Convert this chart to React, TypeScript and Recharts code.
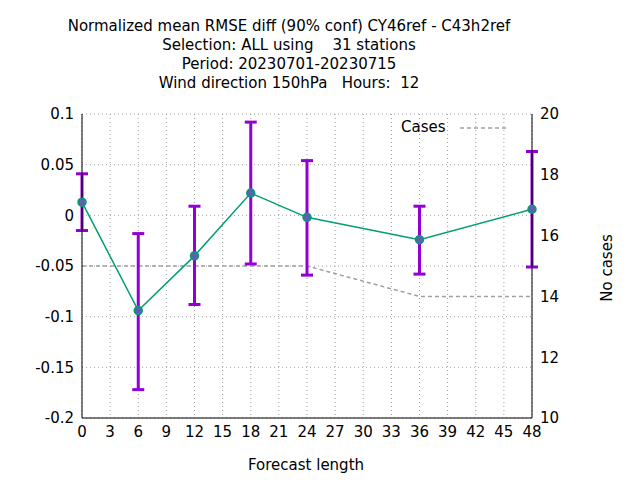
import React from "react";
import {
  ComposedChart,
  Line,
  XAxis,
  YAxis,
  CartesianGrid,
  ErrorBar,
} from "recharts";

const leadTimes = [0, 6, 12, 18, 24, 36, 48];
const meanDiff = [0.013, -0.094, -0.04, 0.022, -0.002, -0.024, 0.006];
const lowBound = [-0.015, -0.172, -0.088, -0.048, -0.059, -0.058, -0.051];
const highBound = [0.041, -0.018, 0.009, 0.092, 0.054, 0.009, 0.063];
const cases = [15, 15, 15, 15, 15, 14, 14];

const xTicks = [0, 3, 6, 9, 12, 15, 18, 21, 24, 27, 30, 33, 36, 39, 42, 45, 48];
const leftTicks = [-0.2, -0.15, -0.1, -0.05, 0, 0.05, 0.1];
const rightTicks = [10, 12, 14, 16, 18, 20];

const titleLines = [
  "Normalized mean RMSE diff (90% conf) CY46ref - C43h2ref",
  "Selection: ALL using    31 stations",
  "Period: 20230701-20230715",
  "Wind direction 150hPa   Hours:  12",
];

const data = leadTimes.map((t, i) => ({
  t,
  mean: meanDiff[i],
  err: [meanDiff[i] - lowBound[i], highBound[i] - meanDiff[i]],
  cases: cases[i],
}));

const font = "DejaVu Sans, sans-serif";

export default function App() {
  return (
    <div style={{ position: "absolute", left: 0, top: 0, width: 640, height: 480, background: "#fff", fontFamily: font }}>
      {titleLines.map((l, i) => (
        <div
          key={i}
          style={{ position: "absolute", left: -17, width: 612, top: 17 + i * 19, textAlign: "center", fontSize: 15, lineHeight: "19px", whiteSpace: "pre" }}
        >
          {l}
        </div>
      ))}
      <ComposedChart
        width={640}
        height={480}
        data={data}
        margin={{ top: 114, right: 0, left: 0, bottom: 0 }}
      >
        <CartesianGrid stroke="#a0a0a0" strokeDasharray="1 3" yAxisId="left" />
        <XAxis
          dataKey="t"
          type="number"
          domain={[0, 48]}
          ticks={xTicks}
          height={62}
          tick={{ fill: "#000", fontSize: 15, fontFamily: font }}
          tickLine={false}
          axisLine={{ stroke: "#000" }}
          interval={0}
        />
        <XAxis xAxisId="top" orientation="top" dataKey="t" type="number" domain={[0, 48]} height={0} tick={false} tickLine={false} axisLine={{ stroke: "#000" }} />
        <YAxis
          yAxisId="left"
          domain={[-0.2, 0.1]}
          ticks={leftTicks}
          width={82}
          tick={{ fill: "#000", fontSize: 15, fontFamily: font }}
          tickLine={false}
          axisLine={{ stroke: "#000" }}
          tickFormatter={(v: number) => String(v)}
        />
        <YAxis
          yAxisId="right"
          orientation="right"
          domain={[10, 20]}
          ticks={rightTicks}
          width={108}
          tick={{ fill: "#000", fontSize: 15, fontFamily: font }}
          tickLine={false}
          axisLine={{ stroke: "#000" }}
        />
        <Line
          yAxisId="right"
          dataKey="cases"
          stroke="#a0a0a0"
          strokeWidth={1.5}
          strokeDasharray="4 3"
          dot={false}
          isAnimationActive={false}
        />
        <Line
          yAxisId="left"
          dataKey="mean"
          stroke="#009e73"
          strokeWidth={1.5}
          dot={{ r: 4, fill: "#5e60b0", stroke: "#009e73", strokeWidth: 1.5 }}
          isAnimationActive={false}
        >
          <ErrorBar dataKey="err" direction="y" stroke="#9400d3" strokeWidth={3} width={6} />
        </Line>
      </ComposedChart>
      <div style={{ position: "absolute", left: 401, top: 118, fontSize: 15 }}>Cases</div>
      <svg style={{ position: "absolute", left: 458, top: 120 }} width={50} height={16}>
        <line x1={2} y1={8} x2={48} y2={8} stroke="#a0a0a0" strokeWidth={1.5} strokeDasharray="4 3" />
      </svg>
      <div style={{ position: "absolute", left: 0, width: 612, top: 456, textAlign: "center", fontSize: 15 }}>Forecast length</div>
      <div style={{ position: "absolute", left: 607, top: 268, fontSize: 15, transform: "translate(-50%, -50%) rotate(-90deg)", whiteSpace: "nowrap" }}>No cases</div>
    </div>
  );
}
